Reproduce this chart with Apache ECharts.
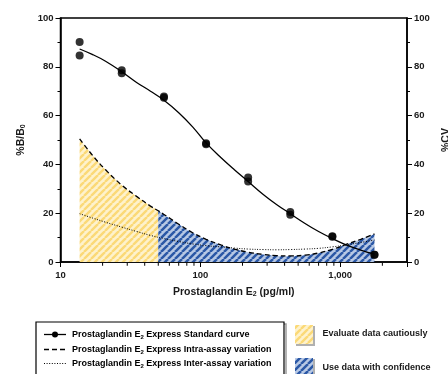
<!DOCTYPE html>
<html><head><meta charset="utf-8">
<script src="https://cdn.jsdelivr.net/npm/echarts@6/dist/echarts.min.js"></script>
<style>html,body{margin:0;padding:0;background:#fff}#c{width:448px;height:374px}</style>
</head><body><div id="c"></div>
<script>
// Standard curve measured points (two replicates)
const conc = [13.7, 27.4, 54.9, 109.8, 219.5, 439, 878, 1756];
const rep1 = [90.2, 78.6, 67.8, 48.7, 34.6, 20.5, 10.6, 3.0];
const rep2 = [84.6, 77.4, 67.3, 48.3, 33.0, 19.4, 10.3, 3.0];
// Fitted standard curve
const fitX = [13.7, 17, 21, 27.4, 35, 44, 54.9, 70, 88, 109.8, 140, 175, 219.5, 280, 350, 439, 560, 700, 878, 1100, 1400, 1756];
const fitY = [87.3, 85.0, 82.3, 78.0, 73.6, 70.0, 66.3, 61.2, 55.4, 48.8, 42.8, 37.8, 33.0, 27.8, 23.6, 19.8, 15.8, 12.5, 9.6, 7.0, 4.9, 3.2];
// Intra-assay variation (%CV)
const intraX = [13.7, 17, 21, 27.4, 35, 44, 50, 54.9, 70, 88, 110, 140, 175, 220, 280, 350, 439, 560, 700, 878, 1100, 1400, 1756];
const intraY = [50.5, 43.6, 37.8, 31.5, 26.9, 22.9, 21.0, 19.5, 15.5, 12.0, 9.3, 7.0, 5.3, 4.0, 3.1, 2.6, 2.5, 2.8, 3.7, 5.2, 7.2, 9.3, 11.5];
// Inter-assay variation (%CV)
const interX = [13.7, 17, 21, 27.4, 35, 44, 54.9, 70, 88, 110, 140, 175, 220, 280, 350, 439, 560, 700, 878, 1100, 1400, 1756];
const interY = [19.8, 18.0, 16.3, 14.3, 12.5, 10.9, 9.6, 8.4, 7.4, 6.7, 6.2, 5.7, 5.3, 5.1, 5.0, 5.1, 5.3, 5.6, 6.2, 7.0, 8.0, 9.0];
const cautionLimit = 50;
const xMajorTicks = [10, 100, 1000];
const xMinorTicks = [20, 30, 40, 50, 60, 70, 80, 90, 200, 300, 400, 500, 600, 700, 800, 900, 2000];
const seriesNames = ['Express Standard curve', 'Express Intra-assay variation', 'Express Inter-assay variation'];
const zoneNames = ['Evaluate data cautiously', 'Use data with confidence'];

const FONT = '"Liberation Sans", Arial, Helvetica, sans-serif';

function makePattern(bg, fg, size, lw) {
  const c = document.createElement('canvas');
  c.width = size; c.height = size;
  const g = c.getContext('2d');
  g.fillStyle = bg; g.fillRect(0, 0, size, size);
  g.strokeStyle = fg; g.lineWidth = lw;
  g.beginPath();
  for (let k = -1; k <= 1; k++) { g.moveTo(k * size, size); g.lineTo(k * size + size, 0); }
  g.stroke();
  return c;
}
const yellowPat = makePattern('#fef2cc', '#fbd977', 7, 2.4);
const bluePat = makePattern('#b7c8e4', '#2b58a6', 7, 2.5);

const pair = (xs, ys) => xs.map((x, i) => [x, ys[i]]);
const intra = pair(intraX, intraY);
const yellowData = intra.filter(p => p[0] <= cautionLimit);
const blueData = intra.filter(p => p[0] >= cautionLimit);
const points = pair(conc, rep1).concat(pair(conc, rep2));

const chart = echarts.init(document.getElementById('c'), null, {renderer: 'canvas'});

const rich = {
  b: {fontFamily: FONT, fontWeight: 'bold', fontSize: 9, color: '#1a1a1a'},
  s: {fontFamily: FONT, fontWeight: 'bold', fontSize: 6, color: '#1a1a1a', padding: [5, 0, 0, 0]}
};
const nameRich = {
  b: {fontFamily: FONT, fontWeight: 'bold', fontSize: 10.5, color: '#1a1a1a'},
  s: {fontFamily: FONT, fontWeight: 'bold', fontSize: 7, color: '#1a1a1a', padding: [5, 0, 0, 0]}
};

const yAxisCommon = {
  type: 'value', min: 0, max: 100, interval: 20,
  axisLine: {show: true, lineStyle: {color: '#000', width: 1.5}},
  axisTick: {show: true, length: 5, lineStyle: {color: '#000', width: 1}},
  minorTick: {show: true, splitNumber: 2, length: 3, lineStyle: {color: '#000', width: 1}},
  splitLine: {show: false},
  axisLabel: {fontFamily: FONT, fontWeight: 'bold', fontSize: 9.5, color: '#1a1a1a', margin: 7},
  nameLocation: 'middle', nameRotate: 90,
  nameTextStyle: {rich: nameRich}
};

function legendLine(y, type) {
  return {type: 'line', shape: {x1: 44, y1: y, x2: 66, y2: y},
    style: {stroke: '#000', lineWidth: type === 'dotted' ? 1 : 1.3, lineDash: type === 'dashed' ? [5, 3] : (type === 'dotted' ? [1, 1.6] : null)}};
}
function legendText(y, tail) {
  return {type: 'text', x: 72, y: y, style: {text: '{b|Prostaglandin E}{s|2}{b| ' + tail + '}', rich: rich, verticalAlign: 'middle'}};
}

const option = {
  animation: false,
  backgroundColor: '#fff',
  grid: {left: 60.5, right: 41, top: 18, bottom: 112, containLabel: false, outerBoundsMode: 'none',
         show: true, borderColor: '#000', borderWidth: 1.5, backgroundColor: 'transparent'},
  xAxis: {
    type: 'log', min: 10, max: 3000, logBase: 10,
    name: '{b|Prostaglandin E}{s|2}{b| (pg/ml)}', nameLocation: 'middle', nameGap: 24,
    nameTextStyle: {rich: nameRich},
    axisLine: {show: true, lineStyle: {color: '#000', width: 1.5}},
    axisTick: {show: true, length: 5, lineStyle: {color: '#000', width: 1}},
    splitLine: {show: false}, minorTick: {show: false},
    axisLabel: {fontFamily: FONT, fontWeight: 'bold', fontSize: 9.5, color: '#1a1a1a', margin: 8,
      formatter: v => { const r = Math.round(v); return xMajorTicks.includes(r) ? r.toLocaleString('en-US') : ''; }}
  },
  yAxis: [
    Object.assign({}, yAxisCommon, {position: 'left', name: '{b|%B/B}{s|0}', nameGap: 29}),
    Object.assign({}, yAxisCommon, {position: 'right', name: '{b|%CV}', nameGap: 34})
  ],
  series: [
    {type: 'line', data: yellowData, smooth: 0.4, symbol: 'none', lineStyle: {width: 0},
     areaStyle: {opacity: 1, color: {image: yellowPat, repeat: 'repeat'}}, z: 1},
    {type: 'line', data: blueData, smooth: 0.4, symbol: 'none', lineStyle: {width: 0},
     areaStyle: {opacity: 1, color: {image: bluePat, repeat: 'repeat'}}, z: 1},
    {type: 'line', name: seriesNames[1], data: intra, smooth: 0.4, symbol: 'none',
     lineStyle: {color: '#000', width: 1.3, type: [5, 3]}, z: 3},
    {type: 'line', name: seriesNames[2], data: pair(interX, interY), smooth: 0.4, symbol: 'none',
     lineStyle: {color: '#000', width: 1, type: [1, 1.6]}, z: 3},
    {type: 'line', name: seriesNames[0], data: pair(fitX, fitY), smooth: 0.4, symbol: 'none',
     lineStyle: {color: '#000', width: 1.3}, z: 4},
    {type: 'scatter', data: points, symbol: 'circle', symbolSize: 8, itemStyle: {color: '#000'}, z: 5},
    {type: 'custom', data: xMinorTicks.map(v => [v, 0]), clip: false, silent: true, z: 6,
     renderItem: (params, api) => {
       const p = api.coord([api.value(0), 0]);
       return {type: 'line', shape: {x1: p[0], y1: p[1] + 0.75, x2: p[0], y2: p[1] + 3.75}, style: {stroke: '#000', lineWidth: 1}};
     }}
  ],
  graphic: [
    {type: 'rect', shape: {x: 38, y: 324, width: 248, height: 60}, style: {fill: 'none', stroke: '#9a9a9a', lineWidth: 1.5}},
    {type: 'rect', shape: {x: 36, y: 322, width: 248, height: 60}, style: {fill: '#fff', stroke: '#000', lineWidth: 1.2}},
    legendLine(334.5, 'solid'),
    {type: 'circle', shape: {cx: 55, cy: 334.5, r: 3}, style: {fill: '#000'}},
    legendText(334.5, seriesNames[0]),
    legendLine(349.5, 'dashed'),
    legendText(349.5, seriesNames[1]),
    legendLine(363.5, 'dotted'),
    legendText(363.5, seriesNames[2]),
    {type: 'rect', shape: {x: 296, y: 326, width: 19, height: 20}, style: {fill: '#b0b0b0'}},
    {type: 'rect', shape: {x: 295, y: 325, width: 18, height: 19}, style: {fill: {image: yellowPat, repeat: 'repeat'}}},
    {type: 'rect', shape: {x: 296, y: 359, width: 19, height: 20}, style: {fill: '#b0b0b0'}},
    {type: 'rect', shape: {x: 295, y: 358, width: 18, height: 19}, style: {fill: {image: bluePat, repeat: 'repeat'}}},
    {type: 'text', x: 322.5, y: 333.5, style: {text: zoneNames[0], fontFamily: FONT, fontWeight: 'bold', fontSize: 9, fill: '#1a1a1a', verticalAlign: 'middle'}},
    {type: 'text', x: 322.5, y: 367.5, style: {text: zoneNames[1], fontFamily: FONT, fontWeight: 'bold', fontSize: 9, fill: '#1a1a1a', verticalAlign: 'middle'}}
  ]
};
chart.setOption(option);
</script>
</body></html>
